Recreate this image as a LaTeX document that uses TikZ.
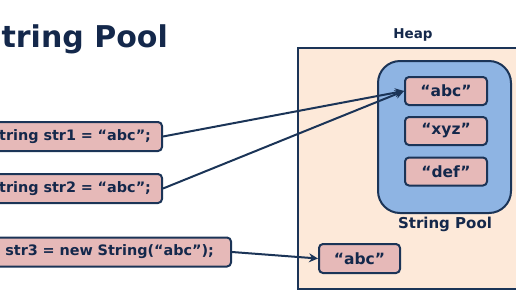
\documentclass[tikz,border=0pt]{standalone}
\usepackage{fontspec}
\setmainfont{DejaVu Sans}
\usetikzlibrary{arrows.meta}
\definecolor{navy}{HTML}{1B3457}
\definecolor{txt}{HTML}{14284B}
\definecolor{pinkbox}{HTML}{E6B9B8}
\definecolor{heapfill}{HTML}{FDE9D9}
\definecolor{poolfill}{HTML}{8EB4E3}
\tikzset{
  strbox/.style={draw=navy, line width=2pt, fill=pinkbox, rounded corners=4pt,
    font=\bfseries\fontsize{14.4}{16}\selectfont, text=txt, inner sep=0pt, minimum height=29pt},
  codebox/.style={strbox, anchor=east, align=right},
  valbox/.style={strbox, font=\bfseries\fontsize{15.5}{17}\selectfont},
  lbl/.style={font=\bfseries, text=txt, inner sep=0pt},
  conn/.style={draw=navy, line width=2pt, -{Stealth[length=9pt,width=9pt,inset=3pt]}}
}
\begin{document}
\begin{tikzpicture}[x=1pt,y=-1pt]
\useasboundingbox (0,0) rectangle (516,290);
\clip (0,0) rectangle (516,290);
% title
\node[lbl, font=\bfseries\fontsize{30}{34}\selectfont, anchor=base east] (title) at (168,47) {String Pool};
% heap
\node[draw=navy, line width=1.8pt, fill=heapfill, minimum width=240pt, minimum height=241pt, anchor=north west, inner sep=0pt] (heap) at (297,47) {};
\node[lbl, font=\bfseries\fontsize{13.5}{15}\selectfont] (heaplbl) at (413,35) {Heap};
% pool
\node[draw=navy, line width=2pt, fill=poolfill, rounded corners=22pt, minimum width=133pt, minimum height=152pt, anchor=north west, inner sep=0pt] (pool) at (377,60) {};
\node[valbox, minimum width=82pt, minimum height=28pt] (pabc) at (446,91) {“abc”};
\node[valbox, minimum width=82pt, minimum height=28pt] (pxyz) at (446,131) {“xyz”};
\node[valbox, minimum width=82pt, minimum height=28pt] (pdef) at (446,171.5) {“def”};
\node[lbl, font=\bfseries\fontsize{15}{17}\selectfont] (poollbl) at (445,224) {String Pool};
% heap object
\node[valbox, minimum width=81pt] (habc) at (359.5,258.5) {“abc”};
% code boxes
\node[codebox, minimum width=200pt, text width=178pt] (s1) at (163,136.5) {String str1 = “abc”;};
\node[codebox, minimum width=200pt, text width=178pt] (s2) at (163,188.5) {String str2 = “abc”;};
\node[codebox, minimum width=360pt, text width=326pt] (s3) at (232,252) {String str3 = new String(“abc”);};
% connectors
\draw[conn] (s1.east) -- (pabc.west);
\draw[conn] (s2.east) -- (pabc.west);
\draw[conn] (s3.east) -- (habc.west);
\end{tikzpicture}
\end{document}
